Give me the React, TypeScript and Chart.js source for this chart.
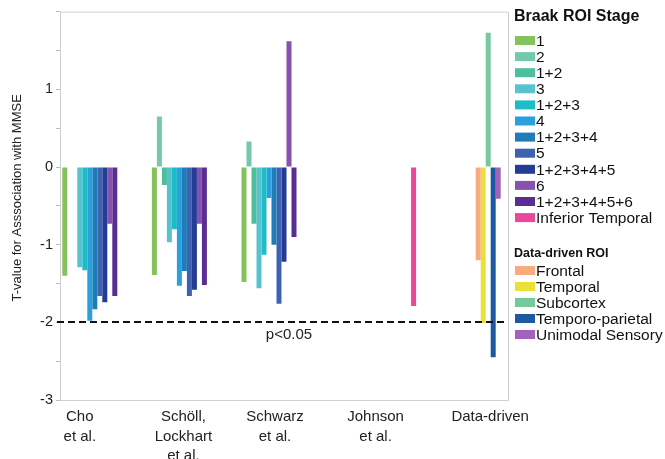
import React, { useEffect, useRef } from "react";
import { Chart, registerables } from "chart.js";

Chart.register(...registerables);

const FONT = "'Liberation Sans', Arial, Helvetica, sans-serif";

// Categories (multi-line x labels)
const categories: string[][] = [
  ["Cho", "et al."],
  ["Schöll,", "Lockhart", "et al."],
  ["Schwarz", "et al."],
  ["Johnson", "et al."],
  ["Data-driven"],
];
const labelShift = [-25, -11, -9, 2, 27];

// Braak ROI stages
const braakLabels = ["1", "2", "1+2", "3", "1+2+3", "4", "1+2+3+4", "5", "1+2+3+4+5", "6", "1+2+3+4+5+6"];
const braakColors = [
  "#84c25b", "#74c9ad", "#4dbf9c", "#58c3d0", "#1ebcc6", "#2aa0de",
  "#1f7cb8", "#3e62b0", "#233d96", "#8752ae", "#5a2d92",
];
const stage1 = [-1.4, -1.39, -1.48, null, null];
const stage2 = [null, 0.65, 0.33, null, null];
const stage12 = [null, -0.23, -0.73, null, null];
const stage3 = [-1.29, -0.97, -1.56, null, null];
const stage123 = [-1.33, -0.8, -1.13, null, null];
const stage4 = [-1.98, -1.53, -0.4, null, null];
const stage1234 = [-1.83, -1.34, -1.0, null, null];
const stage5 = [-1.66, -1.66, -1.76, null, null];
const stage12345 = [-1.74, -1.58, -1.22, null, null];
const stage6 = [-0.73, -0.73, 1.62, null, null];
const stage123456 = [-1.66, -1.52, -0.9, null, null];
const braakValues = [stage1, stage2, stage12, stage3, stage123, stage4, stage1234, stage5, stage12345, stage6, stage123456];

// Data-driven ROI
const ddLabels = ["Frontal", "Temporal", "Subcortex", "Temporo-parietal", "Unimodal Sensory"];
const ddColors = ["#f9ab7d", "#ebe03a", "#76c99c", "#1c59a0", "#a262bb"];
const frontal = [null, null, null, null, -1.2];
const temporal = [null, null, null, null, -2.01];
const subcortex = [null, null, null, null, 1.73];
const temporoParietal = [null, null, null, null, -2.45];
const unimodal = [null, null, null, null, -0.41];
const ddValues = [frontal, temporal, subcortex, temporoParietal, unimodal];

// Inferior temporal
const itLabel = "Inferior Temporal";
const itColor = "#e8479a";
const inferiorTemporal = [null, null, null, -1.79, null];

const threshold = -2;
const thresholdLabel = "p<0.05";
const yMin = -3;
const yMax = 2;
const yStep = 0.5;
const yLabelled = [1, 0, -1, -2, -3];
const yTitle = "T-value for Asssociation with MMSE";
const braakTitle = "Braak ROI Stage";
const ddTitle = "Data-driven ROI";

const overlay = {
  id: "overlay",
  afterDraw(chart: any) {
    const { ctx, chartArea, scales } = chart;
    const x = scales.x;
    const y = scales.y;
    ctx.save();
    // plot frame
    ctx.strokeStyle = "#cfcfcf";
    ctx.lineWidth = 1;
    ctx.beginPath();
    ctx.moveTo(chartArea.left, chartArea.top + 0.5);
    ctx.lineTo(chartArea.right + 0.5, chartArea.top + 0.5);
    ctx.lineTo(chartArea.right + 0.5, chartArea.bottom + 0.5);
    ctx.lineTo(chartArea.left, chartArea.bottom + 0.5);
    ctx.stroke();

    // threshold line
    const ty = Math.round(y.getPixelForValue(threshold));
    ctx.strokeStyle = "#111";
    ctx.lineWidth = 2;
    ctx.setLineDash([7, 4]);
    ctx.beginPath();
    ctx.moveTo(chartArea.left - 3, ty);
    ctx.lineTo(chartArea.right, ty);
    ctx.stroke();
    ctx.setLineDash([]);
    ctx.fillStyle = "#222";
    ctx.font = `15px ${FONT}`;
    ctx.textAlign = "center";
    ctx.textBaseline = "middle";
    ctx.fillText(thresholdLabel, x.getPixelForValue(2) + 5, ty + 13);

    // x labels
    ctx.font = `15px ${FONT}`;
    categories.forEach((lines, i) => {
      const cx = x.getPixelForValue(i) + labelShift[i];
      lines.forEach((ln, j) => {
        ctx.fillText(ln, cx, chartArea.bottom + 17 + j * 19.5);
      });
    });

    // y title
    ctx.save();
    ctx.translate(17.5, (chartArea.top + chartArea.bottom) / 2 - 8);
    ctx.rotate(-Math.PI / 2);
    ctx.font = `13px ${FONT}`;
    ctx.fillText(yTitle, 0, 0);
    ctx.restore();

    // legend
    const lx = chartArea.right + 6;
    ctx.textAlign = "left";
    ctx.fillStyle = "#111";
    ctx.font = `bold 16px ${FONT}`;
    ctx.fillText(braakTitle, lx, 17);
    const bLabels = [...braakLabels, itLabel];
    const bColors = [...braakColors, itColor];
    ctx.font = `15.5px ${FONT}`;
    bLabels.forEach((lab, i) => {
      const cy = 40.5 + i * 16.1;
      ctx.fillStyle = bColors[i];
      ctx.fillRect(lx + 1, cy - 4.5, 20, 9);
      ctx.fillStyle = "#111";
      ctx.fillText(lab, lx + 22, cy + 1);
    });
    ctx.font = `bold 12.5px ${FONT}`;
    ctx.fillText(ddTitle, lx, 254);
    ctx.font = `15.5px ${FONT}`;
    ddLabels.forEach((lab, i) => {
      const cy = 270.5 + i * 16;
      ctx.fillStyle = ddColors[i];
      ctx.fillRect(lx + 1, cy - 4.5, 20, 9);
      ctx.fillStyle = "#111";
      ctx.fillText(lab, lx + 22, cy + 1);
    });
    ctx.restore();
  },
};

export default function App() {
  const ref = useRef<HTMLCanvasElement | null>(null);
  useEffect(() => {
    if (!ref.current) return;
    Chart.defaults.font.family = FONT;
    const datasets: any[] = [];
    braakValues.forEach((vals, i) =>
      datasets.push({ label: braakLabels[i], data: vals, backgroundColor: braakColors[i] })
    );
    ddValues.forEach((vals, i) =>
      datasets.push({ label: ddLabels[i], data: vals, backgroundColor: ddColors[i] })
    );
    datasets.push({ label: itLabel, data: inferiorTemporal, backgroundColor: itColor });

    const chart = new Chart(ref.current, {
      type: "bar",
      data: { labels: categories.map((c) => c.join(" ")), datasets },
      options: {
        responsive: false,
        animation: false,
        layout: { padding: { top: 9, right: 157, left: 0, bottom: 0 } },
        datasets: { bar: { barPercentage: 1, categoryPercentage: 0.9487, borderWidth: 0 } },
        plugins: { legend: { display: false }, tooltip: { enabled: false } },
        scales: {
          x: {
            grid: { display: false },
            border: { display: false },
            ticks: { display: false },
            afterFit: (s: any) => {
              s.height = 59;
            },
          },
          y: {
            min: yMin,
            max: yMax,
            ticks: {
              stepSize: yStep,
              autoSkip: false,
              padding: 3,
              color: "#222",
              font: { size: 14.5, family: FONT },
              callback: (v: any) => (yLabelled.includes(v) ? String(v) : ""),
            },
            grid: { drawOnChartArea: false, tickLength: 4, color: "#bdbdbd" },
            border: { color: "#cfcfcf" },
            afterFit: (s: any) => {
              s.width = 60;
            },
          },
        },
      } as any,
      plugins: [overlay],
    });
    return () => chart.destroy();
  }, []);
  return (
    <div style={{ position: "fixed", left: 0, top: 0, width: 665, height: 459, background: "#fff" }}>
      <canvas ref={ref} width={665} height={459} style={{ display: "block" }} />
    </div>
  );
}
